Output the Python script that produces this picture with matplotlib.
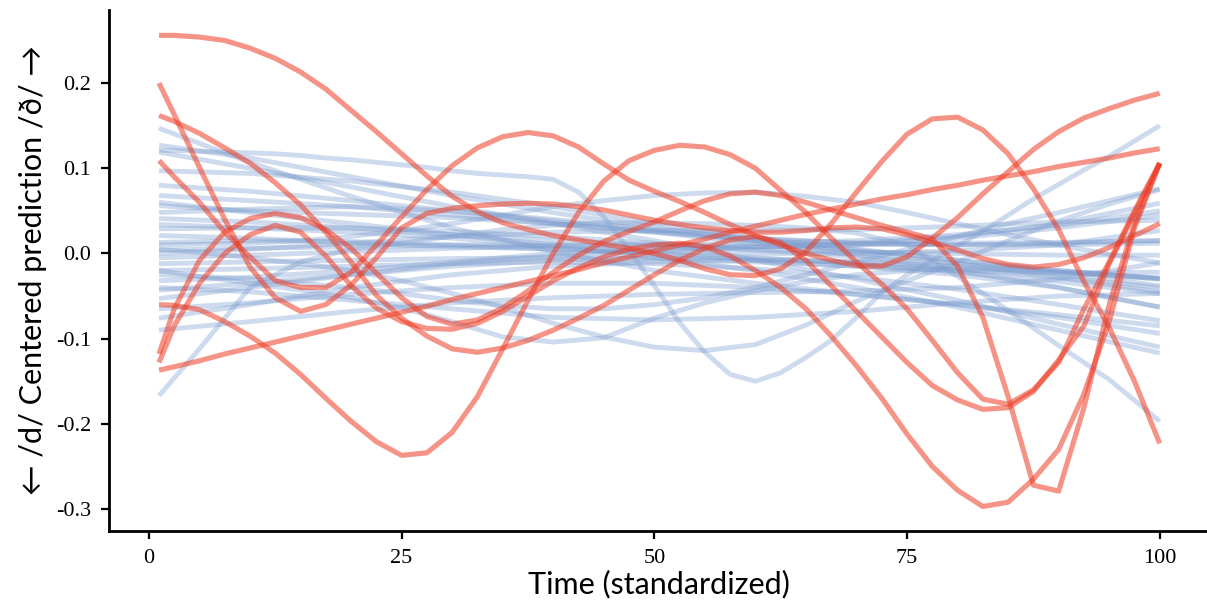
import matplotlib
matplotlib.use("Agg")
import matplotlib.pyplot as plt

# time grids: fine for the wiggly curves, mid and coarse for the calmer blue ones
x_fine = [1, 2.5, 5, 7.5, 10, 12.5, 15, 17.5, 20, 22.5, 25, 27.5, 30, 32.5, 35, 37.5, 40,
          42.5, 45, 47.5, 50, 52.5, 55, 57.5, 60, 62.5, 65, 67.5, 70, 72.5, 75, 77.5, 80,
          82.5, 85, 87.5, 90, 92.5, 95, 97.5, 100]
x_mid = [1, 5, 10, 15, 20, 25, 30, 35, 40, 45, 50, 55, 60, 65, 70, 75, 80, 85, 90, 95, 100]
x_coarse = [1, 10, 20, 30, 40, 50, 60, 70, 80, 90, 100]

# highlighted speakers (red), on x_fine
red_a = [0.256, 0.256, 0.254, 0.250, 0.241, 0.229, 0.213, 0.193, 0.168, 0.143, 0.117, 0.091,
         0.067, 0.049, 0.036, 0.028, 0.021, 0.016, 0.011, 0.006, 0.000, -0.008, -0.018, -0.025,
         -0.026, -0.018, 0.002, 0.035, 0.072, 0.108, 0.140, 0.158, 0.160, 0.145, 0.117, 0.076,
         0.028, -0.033, -0.087, -0.150, -0.223]
red_b = [0.200, 0.163, 0.101, 0.040, -0.016, -0.052, -0.068, -0.060, -0.037, -0.005, 0.030,
         0.047, 0.053, 0.056, 0.058, 0.059, 0.058, 0.055, 0.051, 0.045, 0.039, 0.034, 0.030,
         0.027, 0.025, 0.025, 0.027, 0.030, 0.031, 0.029, 0.022, 0.013, 0.004, -0.006, -0.013,
         -0.016, -0.013, -0.005, 0.007, 0.021, 0.035]
red_c = [0.162, 0.155, 0.141, 0.124, 0.106, 0.083, 0.057, 0.025, -0.010, -0.049, -0.076,
         -0.097, -0.112, -0.116, -0.111, -0.102, -0.090, -0.076, -0.061, -0.043, -0.025, -0.008,
         0.006, 0.016, 0.020, 0.013, -0.008, -0.038, -0.068, -0.098, -0.128, -0.155, -0.172,
         -0.183, -0.181, -0.162, -0.125, -0.085, -0.012, 0.047, 0.106]
red_d = [0.109, 0.090, 0.060, 0.025, -0.004, -0.032, -0.040, -0.040, -0.022, 0.010, 0.043,
         0.075, 0.103, 0.124, 0.137, 0.142, 0.138, 0.125, 0.105, 0.086, 0.073, 0.061, 0.048,
         0.034, 0.021, 0.010, 0.000, -0.008, -0.014, -0.015, -0.004, 0.018, 0.042, 0.070, 0.096,
         0.122, 0.143, 0.159, 0.170, 0.180, 0.188]
red_e = [-0.060, -0.061, -0.066, -0.080, -0.097, -0.117, -0.142, -0.170, -0.197, -0.221, -0.237,
         -0.234, -0.210, -0.168, -0.112, -0.055, 0.000, 0.048, 0.085, 0.109, 0.121, 0.127, 0.125,
         0.116, 0.100, 0.074, 0.048, 0.018, -0.010, -0.036, -0.065, -0.102, -0.140, -0.171,
         -0.177, -0.160, -0.128, -0.065, -0.010, 0.050, 0.106]
red_f = [-0.118, -0.065, -0.008, 0.025, 0.041, 0.047, 0.042, 0.028, 0.006, -0.023, -0.052,
         -0.074, -0.083, -0.078, -0.064, -0.044, -0.022, -0.002, 0.014, 0.026, 0.037, 0.050,
         0.062, 0.070, 0.072, 0.068, 0.060, 0.051, 0.042, 0.033, 0.025, 0.017, -0.015, -0.075,
         -0.168, -0.272, -0.279, -0.181, -0.060, 0.035, 0.106]
red_g = [-0.128, -0.085, -0.035, 0.000, 0.022, 0.033, 0.025, -0.003, -0.038, -0.064, -0.080,
         -0.088, -0.089, -0.082, -0.068, -0.050, -0.032, -0.017, -0.004, 0.005, 0.010, 0.012,
         0.008, -0.003, -0.020, -0.040, -0.065, -0.097, -0.132, -0.170, -0.212, -0.250, -0.278,
         -0.297, -0.292, -0.265, -0.230, -0.165, -0.080, 0.030, 0.106]
red_h = [-0.137, -0.133, -0.126, -0.118, -0.111, -0.104, -0.097, -0.090, -0.083, -0.076, -0.069,
         -0.062, -0.054, -0.047, -0.040, -0.033, -0.026, -0.019, -0.011, -0.004, 0.003, 0.010,
         0.017, 0.025, 0.032, 0.039, 0.046, 0.052, 0.058, 0.064, 0.069, 0.075, 0.080, 0.086,
         0.091, 0.096, 0.102, 0.107, 0.112, 0.118, 0.123]

# other speakers (blue)
blue_wave = [0.121, 0.121, 0.120, 0.119, 0.118, 0.117, 0.115, 0.112, 0.110, 0.107, 0.104, 0.101,
             0.097, 0.094, 0.092, 0.090, 0.087, 0.072, 0.043, 0.004, -0.038, -0.081, -0.116,
             -0.142, -0.150, -0.140, -0.122, -0.102, -0.075, -0.046, -0.025, -0.008, 0.009,
             0.026, 0.045, 0.064, 0.081, 0.098, 0.114, 0.132, 0.150]

blue_m1 = [-0.167, -0.112, -0.040, -0.010, 0.005, 0.012, 0.020, 0.028, 0.033, 0.036, 0.036,
           0.035, 0.033, 0.030, 0.024, 0.010, -0.027, -0.067, -0.108, -0.148, -0.197]
blue_m2 = [0.005, 0.001, -0.005, -0.012, -0.020, -0.032, -0.047, -0.063, -0.082, -0.098, -0.110,
           -0.114, -0.107, -0.084, -0.056, -0.032, -0.010, 0.015, 0.038, 0.058, 0.075]
blue_m3 = [-0.020, -0.027, -0.035, -0.043, -0.052, -0.064, -0.080, -0.098, -0.104, -0.099, -0.076,
           -0.058, -0.044, -0.033, -0.025, -0.020, -0.018, -0.019, -0.022, -0.026, -0.030]
blue_m4 = [-0.025, -0.027, -0.030, -0.035, -0.040, -0.047, -0.055, -0.061, -0.065, -0.065, -0.060,
           -0.052, -0.040, -0.025, -0.010, 0.005, 0.020, 0.035, 0.048, 0.062, 0.076]
blue_m5 = [0.010, 0.011, 0.012, 0.015, 0.020, 0.027, 0.035, 0.045, 0.055, 0.062, 0.068, 0.071,
           0.072, 0.067, 0.060, 0.048, 0.035, 0.022, 0.010, -0.001, -0.011]

blue_01 = [0.147, 0.107, 0.067, 0.030, 0.002, -0.020, -0.035, -0.048, -0.060, -0.072, -0.085]
blue_02 = [0.127, 0.112, 0.090, 0.068, 0.048, 0.030, 0.015, 0.002, -0.012, -0.028, -0.045]
blue_03 = [0.097, 0.094, 0.085, 0.072, 0.055, 0.035, 0.018, 0.005, -0.008, -0.020, -0.030]
blue_04 = [0.080, 0.073, 0.062, 0.050, 0.038, 0.026, 0.015, 0.004, -0.008, -0.022, -0.038]
blue_05 = [0.068, 0.062, 0.055, 0.045, 0.035, 0.025, 0.017, 0.012, 0.010, 0.010, 0.012]
blue_06 = [0.056, 0.050, 0.046, 0.042, 0.035, 0.025, 0.012, -0.002, -0.020, -0.040, -0.063]
blue_07 = [0.048, 0.052, 0.055, 0.050, 0.040, 0.028, 0.018, 0.012, 0.010, 0.012, 0.015]
blue_08 = [0.041, 0.037, 0.030, 0.022, 0.015, 0.010, 0.008, 0.010, 0.018, 0.030, 0.045]
blue_09 = [0.029, 0.030, 0.030, 0.026, 0.020, 0.012, 0.004, -0.004, -0.012, -0.020, -0.029]
blue_10 = [0.021, 0.018, 0.012, 0.008, 0.005, 0.002, 0.000, 0.000, 0.003, 0.010, 0.027]
blue_11 = [0.013, 0.015, 0.014, 0.010, 0.005, 0.000, -0.005, -0.012, -0.022, -0.033, -0.047]
blue_12 = [0.004, 0.006, 0.008, 0.010, 0.010, 0.008, 0.005, 0.002, 0.000, -0.002, -0.002]
blue_13 = [-0.005, -0.002, 0.002, 0.006, 0.009, 0.010, 0.012, 0.015, 0.022, 0.033, 0.050]
blue_14 = [-0.012, -0.010, -0.008, -0.006, -0.005, -0.006, -0.010, -0.015, -0.025, -0.040, -0.063]
blue_15 = [-0.032, -0.028, -0.020, -0.010, 0.000, 0.005, 0.008, 0.010, 0.012, 0.013, 0.015]
blue_16 = [-0.043, -0.035, -0.025, -0.015, -0.008, -0.005, -0.006, -0.010, -0.018, -0.028, -0.040]
blue_17 = [-0.053, -0.040, -0.025, -0.012, -0.003, 0.003, 0.007, 0.012, 0.020, 0.035, 0.059]
blue_18 = [-0.065, -0.058, -0.048, -0.040, -0.035, -0.035, -0.040, -0.048, -0.060, -0.075, -0.094]
blue_19 = [-0.076, -0.060, -0.040, -0.025, -0.015, -0.010, -0.008, -0.010, -0.015, -0.022, -0.029]
blue_20 = [-0.090, -0.080, -0.068, -0.058, -0.052, -0.048, -0.046, -0.044, -0.040, -0.030, -0.011]
blue_21 = [0.119, 0.100, 0.078, 0.055, 0.035, 0.015, -0.008, -0.030, -0.055, -0.083, -0.110]
blue_22 = [0.034, 0.030, 0.025, 0.018, 0.008, -0.005, -0.020, -0.040, -0.063, -0.090, -0.117]
blue_23 = [-0.020, -0.018, -0.015, -0.012, -0.010, -0.012, -0.018, -0.028, -0.042, -0.060, -0.079]
blue_24 = [0.000, 0.005, 0.012, 0.020, 0.025, 0.027, 0.027, 0.028, 0.032, 0.037, 0.039]
blue_25 = [0.060, 0.048, 0.035, 0.022, 0.010, 0.000, -0.008, -0.015, -0.020, -0.023, -0.022]
blue_26 = [-0.040, -0.045, -0.055, -0.065, -0.075, -0.078, -0.075, -0.068, -0.058, -0.050, -0.047]

x_ticks = [0, 25, 50, 75, 100]
y_ticks = [-0.3, -0.2, -0.1, 0.0, 0.1, 0.2]
y_tick_labels = ["-0.3", "-0.2", "-0.1", "0.0", "0.1", "0.2"]

RED = "#ee3b24"
BLUE = "#7f9fd0"
LABEL_FONT = ["Lato", "DejaVu Sans"]
TICK_FONT = "Liberation Serif"


def draw(ax, xs, ys, color, alpha, lw):
    ax.plot(xs, ys, color=color, alpha=alpha, lw=lw,
            solid_capstyle="butt", solid_joinstyle="round")


def main():
    fig = plt.figure(figsize=(12.07, 6.10), dpi=100)
    ax = fig.add_axes([0.0903, 0.1295, 0.912, 0.854])

    coarse = [blue_01, blue_02, blue_03, blue_04, blue_05, blue_06, blue_07, blue_08,
              blue_09, blue_10, blue_11, blue_12, blue_13, blue_14, blue_15, blue_16,
              blue_17, blue_18, blue_19, blue_20, blue_21, blue_22, blue_23, blue_24,
              blue_25, blue_26]
    for ys in coarse:
        draw(ax, x_coarse, ys, BLUE, 0.38, 3.5)
    for ys in [blue_m1, blue_m2, blue_m3, blue_m4, blue_m5]:
        draw(ax, x_mid, ys, BLUE, 0.38, 3.5)
    draw(ax, x_fine, blue_wave, BLUE, 0.38, 3.5)

    for ys in [red_a, red_b, red_c, red_d, red_e, red_f, red_g, red_h]:
        draw(ax, x_fine, ys, RED, 0.55, 3.7)

    ax.set_xlim(-3.95, 104.95)
    ax.set_ylim(-0.3258, 0.2857)

    for side in ["top", "right"]:
        ax.spines[side].set_visible(False)
    for side in ["left", "bottom"]:
        ax.spines[side].set_linewidth(2.0)

    ax.set_xticks(x_ticks)
    ax.set_xticklabels([str(t) for t in x_ticks])
    ax.set_yticks(y_ticks)
    ax.set_yticklabels(y_tick_labels)
    ax.tick_params(direction="out", length=6, width=1.6, pad=7, labelsize=16)
    for lab in ax.get_xticklabels() + ax.get_yticklabels():
        lab.set_fontfamily(TICK_FONT)

    ax.set_xlabel("Time (standardized)", family=LABEL_FONT, fontsize=22, labelpad=1)
    ax.set_ylabel("\u2190 /d/ Centered prediction /\u00f0/ \u2192", family=LABEL_FONT,
                  fontsize=22, labelpad=6)

    fig.savefig("out.png", dpi=100)
    plt.close(fig)


if __name__ == "__main__":
    main()
